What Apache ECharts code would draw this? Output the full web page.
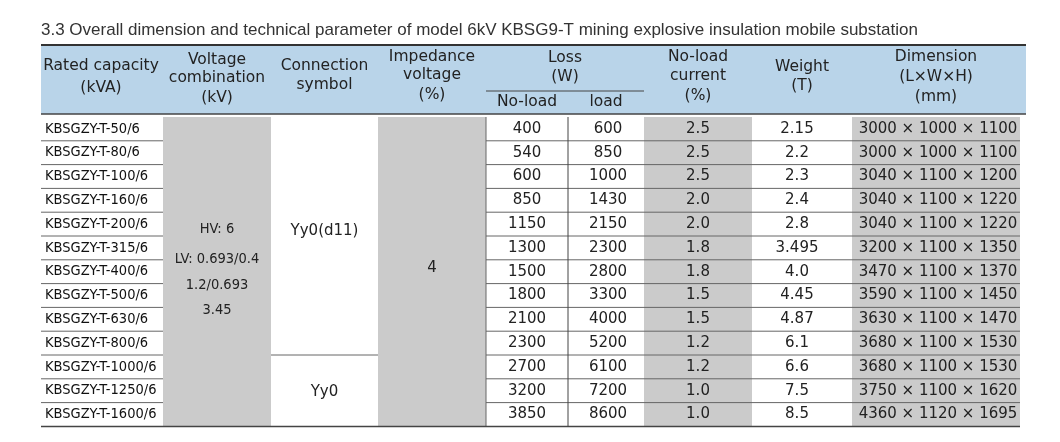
<!DOCTYPE html>
<html><head><meta charset="utf-8">
<script src="https://cdn.jsdelivr.net/npm/echarts@6/dist/echarts.min.js"></script>
<style>html,body{margin:0;background:#fff}#c{width:1060px;height:442px}</style>
</head><body><div id="c"></div>
<script>
const title = "3.3 Overall dimension and technical parameter of model 6kV KBSG9-T mining explosive insulation mobile substation";
const models = ["KBSGZY-T-50/6","KBSGZY-T-80/6","KBSGZY-T-100/6","KBSGZY-T-160/6","KBSGZY-T-200/6","KBSGZY-T-315/6","KBSGZY-T-400/6","KBSGZY-T-500/6","KBSGZY-T-630/6","KBSGZY-T-800/6","KBSGZY-T-1000/6","KBSGZY-T-1250/6","KBSGZY-T-1600/6"];
const lossNoLoad = [400,540,600,850,1150,1300,1500,1800,2100,2300,2700,3200,3850];
const lossLoad = [600,850,1000,1430,2150,2300,2800,3300,4000,5200,6100,7200,8600];
const noLoadCurrent = ["2.5","2.5","2.5","2.0","2.0","1.8","1.8","1.5","1.5","1.2","1.2","1.0","1.0"];
const weight = ["2.15","2.2","2.3","2.4","2.8","3.495","4.0","4.45","4.87","6.1","6.6","7.5","8.5"];
const dimension = ["3000 × 1000 × 1100","3000 × 1000 × 1100","3040 × 1100 × 1200","3040 × 1100 × 1220","3040 × 1100 × 1220","3200 × 1100 × 1350","3470 × 1100 × 1370","3590 × 1100 × 1450","3630 × 1100 × 1470","3680 × 1100 × 1530","3680 × 1100 × 1530","3750 × 1100 × 1620","4360 × 1120 × 1695"];
const voltageLines = ["HV: 6","LV: 0.693/0.4","1.2/0.693","3.45"];
const connection = [{text:"Yy0(d11)",from:0,to:9},{text:"Yy0",from:10,to:12}];
const impedance = "4";

// layout (pixel coordinates on a 1060x442 value grid)
const X = [41,163,271,378,486,568,644,752,852,1020];
const HTOP=45, HBOT=114, R0=117, RH=23.8;
const rowY = i => R0 + i*RH;
const F = '"DejaVu Sans", sans-serif';
const T = 'Arial, "Liberation Sans", sans-serif';
const NARROW = '"DejaVu Sans Condensed","Liberation Sans", sans-serif';

const items = [];
const rect=(x1,y1,x2,y2,fill)=>items.push({k:'r',v:[x1,y1,x2,y2],fill});
const line=(x1,y1,x2,y2,w,c)=>items.push({k:'l',v:[x1,y1,x2,y2],w:w||1,c:c||'#555'});
const txt=(x,y,s,opt)=>items.push(Object.assign({k:'t',v:[x,y],s},opt||{}));

rect(X[0],HTOP,X[9]+6,HBOT,'#b9d4e9');
line(X[0],HTOP,X[9]+6,HTOP,2,'#333');
line(X[0],HBOT,X[9]+6,HBOT,1.5,'#444');
line(X[4],91,X[6],91,1,'#444');
const HS=15.5;
const hdr=[[0,["Rated capacity","(kVA)"],[66,88]],[1,["Voltage","combination","(kV)"],[60,78,98]],[2,["Connection","symbol"],[66,85]],[3,["Impedance","voltage","(%)"],[57,75,95]],[6,["No-load","current","(%)"],[57,76,96]],[7,["Weight","(T)"],[67,86]],[8,["Dimension","(L×W×H)","(mm)"],[57,77,97]]];
hdr.forEach(([c,ls,ys])=>ls.forEach((s,j)=>txt((X[c]+X[c+1])/2+(c===0?-1:0),ys[j],s,{size:HS,color:'#222'})));
txt((X[4]+X[6])/2,58,"Loss",{size:HS,color:'#222'});
txt((X[4]+X[6])/2,77,"(W)",{size:HS,color:'#222'});
txt(527,102,"No-load",{size:HS,color:'#222'});
txt(606,102,"load",{size:HS,color:'#222'});

const n=models.length, yEnd=rowY(n);
rect(X[1],R0,X[2],yEnd,'#cbcbcb');
rect(X[3],R0,X[4],yEnd,'#cbcbcb');
rect(X[6],R0,X[7],yEnd,'#cbcbcb');
rect(X[8],R0,X[9],yEnd,'#cbcbcb');
for(let i=1;i<n;i++){
  const y=rowY(i);
  line(X[0],y,X[1],y,1,'#666'); line(X[4],y,X[9],y,1,'#666');
}
line(X[2],rowY(10),X[3],rowY(10),1,'#666');
line(X[4],R0,X[4],yEnd,1,'#666');
line(X[5],R0,X[5],yEnd,1,'#444');
line(X[0],yEnd,X[9],yEnd,1.5,'#444');
const DS=15;
models.forEach((m,i)=>{
  const cy=rowY(i)+RH/2;
  txt(X[0]+4,cy,m,{size:14.5,align:'left',font:NARROW,color:'#111'});
  txt((X[4]+X[5])/2,cy,String(lossNoLoad[i]),{size:DS});
  txt((X[5]+X[6])/2+2,cy,String(lossLoad[i]),{size:DS});
  txt((X[6]+X[7])/2,cy,noLoadCurrent[i],{size:DS});
  txt((X[7]+X[8])/2-5,cy,weight[i],{size:DS});
  txt((X[8]+X[9])/2+2,cy,dimension[i],{size:DS});
});
[229,259,285,310].forEach((y,j)=>txt((X[1]+X[2])/2,y,voltageLines[j],{size:14.5,font:NARROW}));
connection.forEach(c=>txt((X[2]+X[3])/2,c.from===0?231:392,c.text,{size:DS}));
txt((X[3]+X[4])/2,268,impedance,{size:DS});
txt(41,30,title,{size:17,align:'left',color:'#333',font:T});

const chart=echarts.init(document.getElementById('c'),null,{renderer:'canvas'});
chart.setOption({
  animation:false,
  grid:{left:0,right:0,top:0,bottom:0},
  xAxis:{type:'value',min:0,max:1060,show:false},
  yAxis:{type:'value',min:0,max:442,inverse:true,show:false},
  series:[{type:'custom',coordinateSystem:'cartesian2d',
    data:items.map((it,idx)=>({value:it.k==='t'?[...it.v,0,0]:it.v,idx})),
    encode:{x:[0,2],y:[1,3]},
    renderItem:(p,api)=>{
      const it=items[p.dataIndex];
      const a=api.coord([it.v[0],it.v[1]]);
      if(it.k==='r'){const b=api.coord([it.v[2],it.v[3]]);
        return {type:'rect',shape:{x:a[0],y:a[1],width:b[0]-a[0],height:b[1]-a[1]},style:{fill:it.fill}};}
      if(it.k==='l'){const b=api.coord([it.v[2],it.v[3]]);
        return {type:'line',shape:{x1:a[0],y1:a[1],x2:b[0],y2:b[1]},style:{stroke:it.c,lineWidth:it.w}};}
      return {type:'text',x:a[0],y:a[1],style:{text:it.s,fill:it.color||'#222',font:(it.size||14)+'px '+(it.font||F),align:it.align||'center',verticalAlign:'middle'}};
    }}]
});
</script></body></html>
